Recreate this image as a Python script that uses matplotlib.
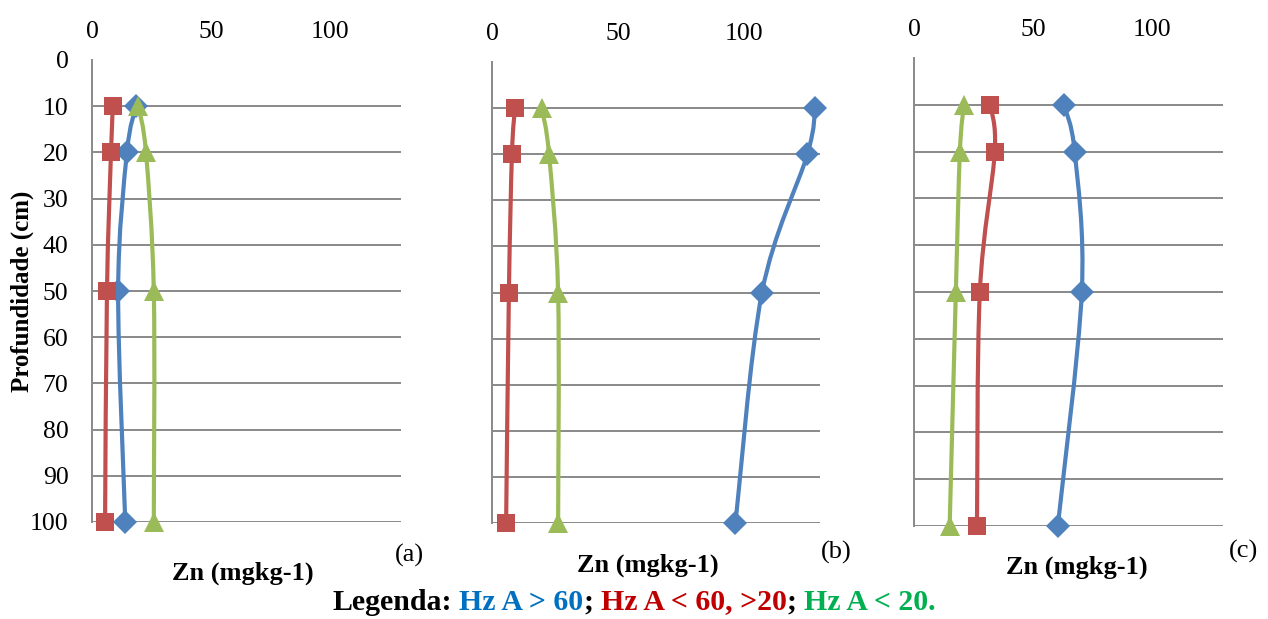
import numpy as np
import matplotlib
matplotlib.use('Agg')
import matplotlib.pyplot as plt
from matplotlib.path import Path
from matplotlib.patches import PathPatch

# Depth (cm) of the sampled layers
depths = [10, 20, 50, 100]
y_ticks = list(range(0, 101, 10))
x_ticks = [0, 50, 100]

# Zn (mg kg-1) per panel: Hz A > 60 (blue), Hz A < 60, >20 (red), Hz A < 20 (green)
zn_a_blue = [18.5, 14.7, 11.0, 14.0]
zn_a_red = [8.8, 8.0, 6.3, 5.5]
zn_a_green = [19.5, 22.7, 26.0, 26.0]

zn_b_blue = [128.0, 125.0, 107.0, 96.5]
zn_b_red = [9.1, 7.9, 6.7, 5.6]
zn_b_green = [19.7, 22.6, 26.2, 26.2]

zn_c_blue = [63.0, 67.6, 70.6, 60.5]
zn_c_red = [32.0, 34.0, 27.7, 26.5]
zn_c_green = [21.0, 19.3, 17.6, 15.0]

panel_labels = ['(a)', '(b)', '(c)']
xlabel = 'Zn (mgkg-1)'
ylabel = 'Profundidade (cm)'

BLUE = '#4F81BD'
RED = '#C0504D'
GREEN = '#9BBB59'
GRID = '#898989'
SERIF = 'Liberation Serif'

W, H = 1268, 619


def smooth_path(xs, ys):
    # Excel-style smoothed line: Catmull-Rom segments as cubic Beziers
    pts = np.column_stack([xs, ys]).astype(float)
    n = len(pts)
    verts = [pts[0]]
    codes = [Path.MOVETO]
    for i in range(n - 1):
        p0 = pts[i - 1] if i > 0 else pts[i]
        p1 = pts[i]
        p2 = pts[i + 1]
        p3 = pts[i + 2] if i + 2 < n else pts[i + 1]
        c1 = p1 + (p2 - p0) / 6.0
        c2 = p2 - (p3 - p1) / 6.0
        verts += [c1, c2, p2]
        codes += [Path.CURVE4] * 3
    return Path(verts, codes)


def draw_series(ax, values, color, marker, size):
    ax.add_patch(PathPatch(smooth_path(values, depths), facecolor='none',
                           edgecolor=color, lw=3.0, capstyle='round',
                           joinstyle='round', zorder=3, clip_on=False))
    ax.plot(values, depths, linestyle='none', marker=marker, ms=size,
            color=color, mew=0, zorder=4, clip_on=False)


fig = plt.figure(figsize=(W / 100, H / 100), dpi=100)

# axes boxes in pixels: left, right, top, bottom
boxes = [(92, 401, 60, 522), (492, 820, 62, 523), (914, 1223, 58, 526)]
data = [
    (zn_a_blue, zn_a_red, zn_a_green),
    (zn_b_blue, zn_b_red, zn_b_green),
    (zn_c_blue, zn_c_red, zn_c_green),
]
xlabel_pos = [(243, 573), (648, 565), (1077, 567)]
plabel_pos = [(409, 555), (836, 552), (1243, 551)]

for k, ((l, r, t, b), (blue, red, green)) in enumerate(zip(boxes, data)):
    ax = fig.add_axes([l / W, 1 - b / H, (r - l) / W, (b - t) / H])
    ax.set_xlim(0, 130)
    ax.set_ylim(100, 0)
    ax.set_xticks(x_ticks)
    ax.set_yticks(y_ticks)
    ax.xaxis.tick_top()
    ax.tick_params(axis='x', length=0, pad=12, labelsize=18.5)
    ax.tick_params(axis='y', length=0, pad=17, labelsize=18.5)
    for lab in ax.get_xticklabels() + ax.get_yticklabels():
        lab.set_fontfamily(SERIF)
    if k > 0:
        ax.set_yticklabels([])
    for s in ['top', 'right', 'bottom']:
        ax.spines[s].set_visible(False)
    ax.spines['left'].set_color(GRID)
    ax.spines['left'].set_linewidth(1.4)
    for yv in y_ticks[1:]:
        ax.axhline(yv, color=GRID, lw=1.4, zorder=1)

    draw_series(ax, blue, BLUE, 'D', 12)
    draw_series(ax, red, RED, 's', 13.5)
    draw_series(ax, green, GREEN, '^', 14)

    fig.text(xlabel_pos[k][0] / W, 1 - xlabel_pos[k][1] / H, xlabel,
             fontfamily=SERIF, fontweight='bold', fontsize=19,
             ha='center', va='center')
    fig.text(plabel_pos[k][0] / W, 1 - plabel_pos[k][1] / H, panel_labels[k],
             fontfamily=SERIF, fontsize=19, ha='center', va='center')

fig.text(22 / W, 1 - 291 / H, ylabel, rotation=90, fontfamily=SERIF,
         fontweight='bold', fontsize=18, ha='center', va='center')

# multi-coloured legend line
legend_parts = [
    ('Legenda:', 'black'),
    ('Hz A > 60', '#0070C0'),
    (';', 'black'),
    ('Hz A < 60, >20', '#C00000'),
    (';', 'black'),
    ('Hz A < 20.', '#00B050'),
]
renderer = fig.canvas.get_renderer()
fp = dict(fontfamily=SERIF, fontweight='bold', fontsize=21.5)
t1 = fig.text(0, 0, 'x x', **fp)
t2 = fig.text(0, 0, 'xx', **fp)
space = t1.get_window_extent(renderer).width - t2.get_window_extent(renderer).width
t1.remove()
t2.remove()

texts = []
widths = []
for txt, col in legend_parts:
    tt = fig.text(0, 1 - 602 / H, txt, color=col, ha='left', va='center', **fp)
    texts.append(tt)
    widths.append(tt.get_window_extent(renderer).width)
# spaces follow "Legenda:" and each ";"
gaps = [space, 0, space, 0, space, 0]
total = sum(widths) + sum(gaps[:-1])
x = 634 - total / 2
for tt, w, g in zip(texts, widths, gaps):
    tt.set_x(x / W)
    x += w + g

fig.savefig('out.png', dpi=100)
